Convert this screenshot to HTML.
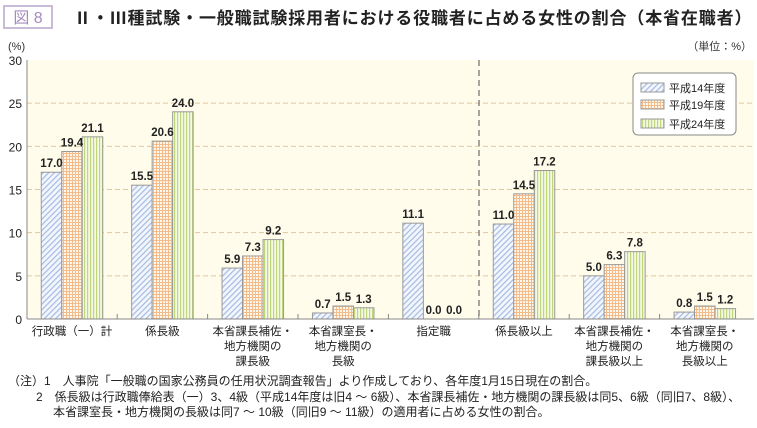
<!DOCTYPE html>
<html><head><meta charset="utf-8"><style>
body{margin:0;background:#fff;width:757px;height:423px;overflow:hidden;font-family:"Liberation Sans","Noto Sans CJK JP",sans-serif;}
svg text{font-family:"Liberation Sans","Noto Sans CJK JP",sans-serif;}
</style></head><body>
<svg id="c" width="757" height="423">
<defs>
<pattern id="pb" width="4" height="4" patternUnits="userSpaceOnUse" patternTransform="rotate(45)"><rect width="4" height="4" fill="#f3f6fc"/><rect width="1.2" height="4" fill="#a4bbe2"/></pattern>
<pattern id="po" width="3" height="3" patternUnits="userSpaceOnUse"><rect width="3" height="3" fill="#fef7ee"/><rect width="3" height="1" fill="#f5bb88"/><rect width="1" height="3" fill="#f5bb88"/></pattern>
<pattern id="pg" width="3" height="4" patternUnits="userSpaceOnUse"><rect width="3" height="4" fill="#f5f9e4"/><rect width="1.2" height="4" fill="#c0d67c"/></pattern>
</defs>
<rect x="4" y="6" width="48" height="22" fill="none" stroke="#b9a6cc" stroke-width="1.5"/>
<text x="28" y="23" font-size="16" fill="#a58bc0" text-anchor="middle">図 8</text>
<text x="74" y="24" font-size="17" font-weight="bold" fill="#222" letter-spacing="0.85">Ⅱ・Ⅲ種試験・一般職試験採用者における役職者に占める女性の割合（本省在職者）</text>
<text x="8" y="50" font-size="11" fill="#333">(%)</text>
<text x="752" y="50" font-size="11" fill="#333" text-anchor="end">（単位：%）</text>
<rect x="27" y="60" width="727" height="259" fill="#fffcec"/>
<g id="grid"></g><g id="bars"></g>
<line x1="27" y1="60" x2="27" y2="319" stroke="#888"/>
<line x1="27" y1="319" x2="754" y2="319" stroke="#888"/>
<line x1="479" y1="60" x2="479" y2="319" stroke="#888" stroke-width="1.5" stroke-dasharray="6,4"/>
<g>
<rect x="633" y="73" width="103" height="62" rx="5" fill="#fff" stroke="#888"/>
<rect x="641" y="83" width="23" height="9" fill="url(#pb)" stroke="#999"/>
<text x="669" y="92" font-size="11" fill="#222">平成14年度</text>
<rect x="641" y="100" width="23" height="9" fill="url(#po)" stroke="#999"/>
<text x="669" y="109" font-size="11" fill="#222">平成19年度</text>
<rect x="641" y="119" width="23" height="9" fill="url(#pg)" stroke="#999"/>
<text x="669" y="128" font-size="11" fill="#222">平成24年度</text>
</g>
<g font-size="12" fill="#222">
<text x="8" y="385">（注）1　人事院「一般職の国家公務員の任用状況調査報告」より作成しており、各年度1月15日現在の割合。</text>
<text x="36" y="401">2　係長級は行政職俸給表（一）3、4級（平成14年度は旧4 ～ 6級）、本省課長補佐・地方機関の課長級は同5、6級（同旧7、8級）、</text>
<text x="53" y="416">本省課室長・地方機関の長級は同7 ～ 10級（同旧9 ～ 11級）の適用者に占める女性の割合。</text>
</g>
</svg>
<script>
const categories=[["行政職（一）計"],["係長級"],["本省課長補佐・","地方機関の","課長級"],["本省課室長・","地方機関の","長級"],["指定職"],["係長級以上"],["本省課長補佐・","地方機関の","課長級以上"],["本省課室長・","地方機関の","長級以上"]];
const h14=[17.0,15.5,5.9,0.7,11.1,11.0,5.0,0.8];
const h19=[19.4,20.6,7.3,1.5,0.0,14.5,6.3,1.5];
const h24=[21.1,24.0,9.2,1.3,0.0,17.2,7.8,1.2];
const yTicks=[0,5,10,15,20,25,30];
const NS="http://www.w3.org/2000/svg";
const y=v=>319-v*259/30;
const xc=i=>72+i*90.4;
const bw=20.5;
function mk(t,a,p){const e=document.createElementNS(NS,t);for(const k in a)e.setAttribute(k,a[k]);p.appendChild(e);return e;}
const grid=document.getElementById('grid'),svg=document.getElementById('c'),bars=document.getElementById('bars');
yTicks.forEach(v=>{
 if(v>0&&v<30){const l=mk('line',{x1:27,x2:754,y1:y(v),y2:y(v),stroke:'#e0c8a0','stroke-dasharray':'5,3'},grid);
 
 }
 const t=mk('text',{x:22,y:y(v)+5,'font-size':12,'text-anchor':'end',fill:'#222'},svg);t.textContent=v;
 
 
});
const series=[[h14,'url(#pb)','h14'],[h19,'url(#po)','h19'],[h24,'url(#pg)','h24']];
categories.forEach((c,i)=>{
 series.forEach((s,j)=>{
  const v=s[0][i],x=xc(i)-1.5*bw+j*bw;
  if(v>0){const r=mk('rect',{x:x,y:y(v),width:bw,height:319-y(v),fill:s[1],stroke:'#999','stroke-width':1},bars);
  
  }
  const t=mk('text',{x:x+bw/2,y:y(v)-5,'font-size':11.5,'font-weight':'bold','text-anchor':'middle',fill:'#222'},svg);t.textContent=v.toFixed(1);
  
  
 });
 if(i<7){const tk=mk('line',{x1:xc(i)+45.2,x2:xc(i)+45.2,y1:314,y2:319,stroke:'#888'},svg);
 
 }
 c.forEach((line,k)=>{const t=mk('text',{x:xc(i),y:335+k*15,'font-size':11.5,'text-anchor':'middle',fill:'#222'},svg);t.textContent=line;
 
 });
});
</script>
</body></html>
